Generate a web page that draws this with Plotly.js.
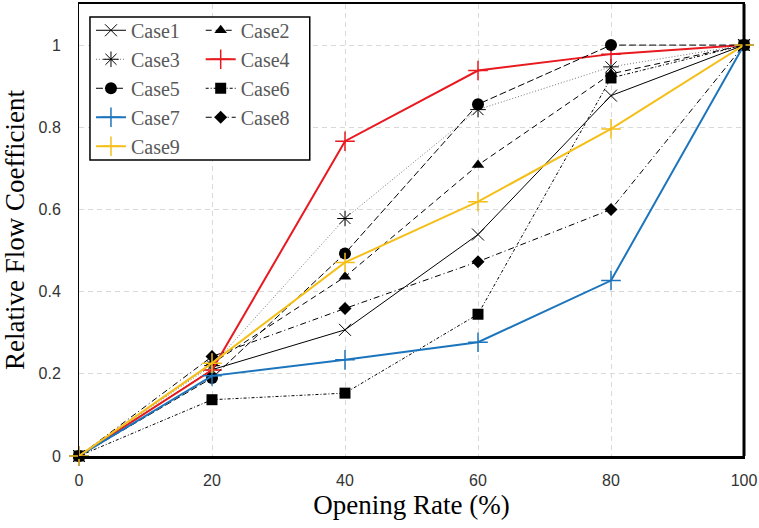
<!DOCTYPE html>
<html>
<head>
<meta charset="utf-8">
<script src="https://cdn.plot.ly/plotly-3.0.1.min.js"></script>
<style>html,body{margin:0;padding:0;background:#fff;}#chart{width:759px;height:528px;}</style>
</head>
<body>
<div id="chart"></div>
<script>
// Data
const openingRate = [0, 20, 40, 60, 80, 100];
const case1 = [0, 0.210, 0.307, 0.539, 0.877, 1];
const case2 = [0, 0.225, 0.436, 0.708, 0.930, 1];
const case3 = [0, 0.220, 0.578, 0.843, 0.947, 1];
const case4 = [0, 0.209, 0.766, 0.938, 0.978, 1];
const case5 = [0, 0.190, 0.493, 0.856, 1.000, 1];
const case6 = [0, 0.137, 0.153, 0.345, 0.920, 1];
const case7 = [0, 0.195, 0.234, 0.277, 0.427, 1];
const case8 = [0, 0.242, 0.359, 0.473, 0.600, 1];
const case9 = [0, 0.226, 0.471, 0.619, 0.796, 1];
const xTicks = [0, 20, 40, 60, 80, 100];
const yTicks = [0, 0.2, 0.4, 0.6, 0.8, 1];
const yTickText = ['0', '0.2', '0.4', '0.6', '0.8', '1'];

function tr(name, y, opts) {
  return Object.assign({
    type: 'scatter', mode: 'lines+markers', name: name,
    x: openingRate, y: y, cliponaxis: false
  }, opts);
}

const data = [
  tr('Case1', case1, {legend: 'legend', line: {color: '#000', width: 1},
    marker: {symbol: 'x-thin-open', size: 12, color: '#000', line: {color: '#000', width: 1}}}),
  tr('Case2', case2, {legend: 'legend2', line: {color: '#000', width: 1, dash: '6px,4px'},
    marker: {symbol: 'triangle-up', size: 11, color: '#000'}}),
  tr('Case3', case3, {legend: 'legend', line: {color: '#777', width: 1, dash: '1px,2px'},
    marker: {symbol: 'asterisk-open', size: 13, color: '#000', line: {color: '#000', width: 1}}}),
  tr('Case4', case4, {legend: 'legend2', line: {color: '#e8191f', width: 2},
    marker: {symbol: 'cross-thin-open', size: 14, color: '#e8191f', line: {color: '#e8191f', width: 1.5}}}),
  tr('Case5', case5, {legend: 'legend', line: {color: '#000', width: 1, dash: '7px,3px'},
    marker: {symbol: 'circle', size: 12, color: '#000'}}),
  tr('Case6', case6, {legend: 'legend2', line: {color: '#000', width: 1, dash: '3px,2px,1px,2px'},
    marker: {symbol: 'square', size: 11, color: '#000'}}),
  tr('Case7', case7, {legend: 'legend', line: {color: '#1c75bc', width: 2},
    marker: {symbol: 'cross-thin-open', size: 14, color: '#1c75bc', line: {color: '#1c75bc', width: 1.5}}}),
  tr('Case8', case8, {legend: 'legend2', line: {color: '#000', width: 1, dash: '6px,3px,1px,3px'},
    marker: {symbol: 'diamond', size: 10, color: '#000'}}),
  tr('Case9', case9, {legend: 'legend', line: {color: '#f5bf19', width: 2},
    marker: {symbol: 'cross-thin-open', size: 14, color: '#f5bf19', line: {color: '#f5bf19', width: 1.5}}})
];

const legendFont = {family: '"Liberation Serif", "Times New Roman", serif', size: 20, color: '#595959'};

const layout = {
  width: 759, height: 528,
  margin: {l: 79, r: 15, t: 4, b: 72},
  paper_bgcolor: '#fff', plot_bgcolor: '#fff',
  showlegend: true,
  xaxis: {
    range: [0, 100], tickvals: xTicks, ticktext: xTicks.map(String),
    showgrid: true, gridcolor: '#d9d9d9', griddash: '5px,4px', gridwidth: 1,
    zeroline: false, showline: true, linecolor: '#000', linewidth: 2.5, mirror: true,
    ticks: '', ticklabelstandoff: 8,
    tickfont: {family: '"Liberation Sans", Arial, sans-serif', size: 16, color: '#333'},
    title: {text: 'Opening Rate (%)', standoff: 8,
      font: {family: '"Liberation Serif", "Times New Roman", serif', size: 27, color: '#000'}}
  },
  yaxis: {
    range: [0, 1.1], tickvals: yTicks, ticktext: yTickText,
    showgrid: true, gridcolor: '#d9d9d9', griddash: '5px,4px', gridwidth: 1,
    zeroline: false, showline: true, linecolor: '#000', linewidth: 1, mirror: true,
    ticks: '', ticklabelstandoff: 14,
    tickfont: {family: '"Liberation Sans", Arial, sans-serif', size: 16, color: '#333'},
    title: {text: 'Relative Flow Coefficient', standoff: 12,
      font: {family: '"Liberation Serif", "Times New Roman", serif', size: 27, color: '#000'}}
  },
  legend: {
    x: 0.018, y: 0.985, xanchor: 'left', yanchor: 'top',
    bgcolor: 'rgba(0,0,0,0)', borderwidth: 0, font: legendFont, itemwidth: 30, tracegroupgap: 0
  },
  legend2: {
    x: 0.183, y: 0.985, xanchor: 'left', yanchor: 'top',
    bgcolor: 'rgba(0,0,0,0)', borderwidth: 0, font: legendFont, itemwidth: 30, tracegroupgap: 0
  },
  shapes: [
    {type: 'rect', xref: 'paper', yref: 'paper', x0: 0.0165, x1: 0.347, y0: 0.655, y1: 0.971,
     fillcolor: '#fff', line: {color: '#000', width: 1.5}, layer: 'above'},
    {type: 'line', xref: 'paper', yref: 'paper', x0: 1, x1: 1, y0: 0, y1: 1,
     line: {color: '#000', width: 3}, layer: 'above'}
  ]
};

Plotly.newPlot('chart', data, layout, {displayModeBar: false, staticPlot: true});
</script>
</body>
</html>
